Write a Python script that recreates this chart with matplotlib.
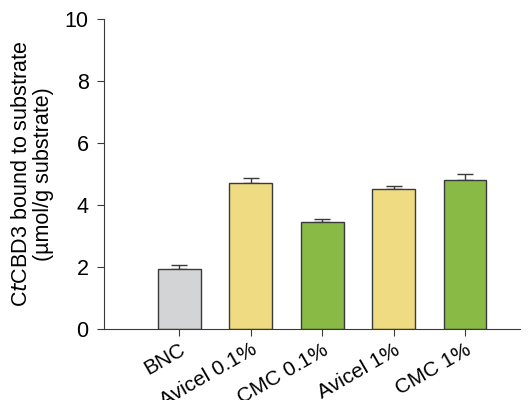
import matplotlib
matplotlib.use("Agg")
import matplotlib.pyplot as plt
import numpy as np

labels = ["BNC", "Avicel 0.1%", "CMC 0.1%", "Avicel 1%", "CMC 1%"]
values = [1.94, 4.71, 3.45, 4.52, 4.81]
errors = [0.12, 0.15, 0.09, 0.08, 0.20]
colors = ["#d3d4d6", "#efdb82", "#8aba46", "#efdb82", "#8aba46"]

plt.rcParams['font.family'] = ['Liberation Sans', 'DejaVu Sans']

fig = plt.figure(figsize=(5.28, 4.0), dpi=100)
ax = fig.add_axes([0.197, 0.1775, 0.788, 0.775])

x = np.arange(len(labels))
ax.bar(x, values, width=0.6, color=colors, edgecolor="#3a3a3a", linewidth=1.0, zorder=2)
ax.errorbar(x, values, yerr=[np.zeros(len(errors)), errors], fmt="none",
            ecolor="#3a3a3a", elinewidth=1.0, capsize=6, capthick=1.0, zorder=1)

ax.set_xlim(-1.05, 4.77)
ax.set_ylim(0, 10)
ax.set_yticks([0, 2, 4, 6, 8, 10])
ax.set_xticks(x)
ax.set_xticklabels(labels, rotation=30, ha="right", rotation_mode="anchor", fontsize=15)
ax.tick_params(axis="y", labelsize=15.5, direction="out", length=5, color="#3a3a3a", pad=6)
ax.tick_params(axis="x", direction="out", length=5, color="#3a3a3a", pad=3)
for lbl in ax.get_xticklabels():
    lbl.set_x(lbl.get_position()[0] + 0.03)

for s in ["top", "right"]:
    ax.spines[s].set_visible(False)
for s in ["left", "bottom"]:
    ax.spines[s].set_color("#3a3a3a")

ax.set_ylabel("C$\\it{t}$CBD3 bound to substrate\n(\u00b5mol/g substrate)", fontsize=15.5,
              labelpad=8, linespacing=1.05)

fig.savefig("out.png", dpi=100)
